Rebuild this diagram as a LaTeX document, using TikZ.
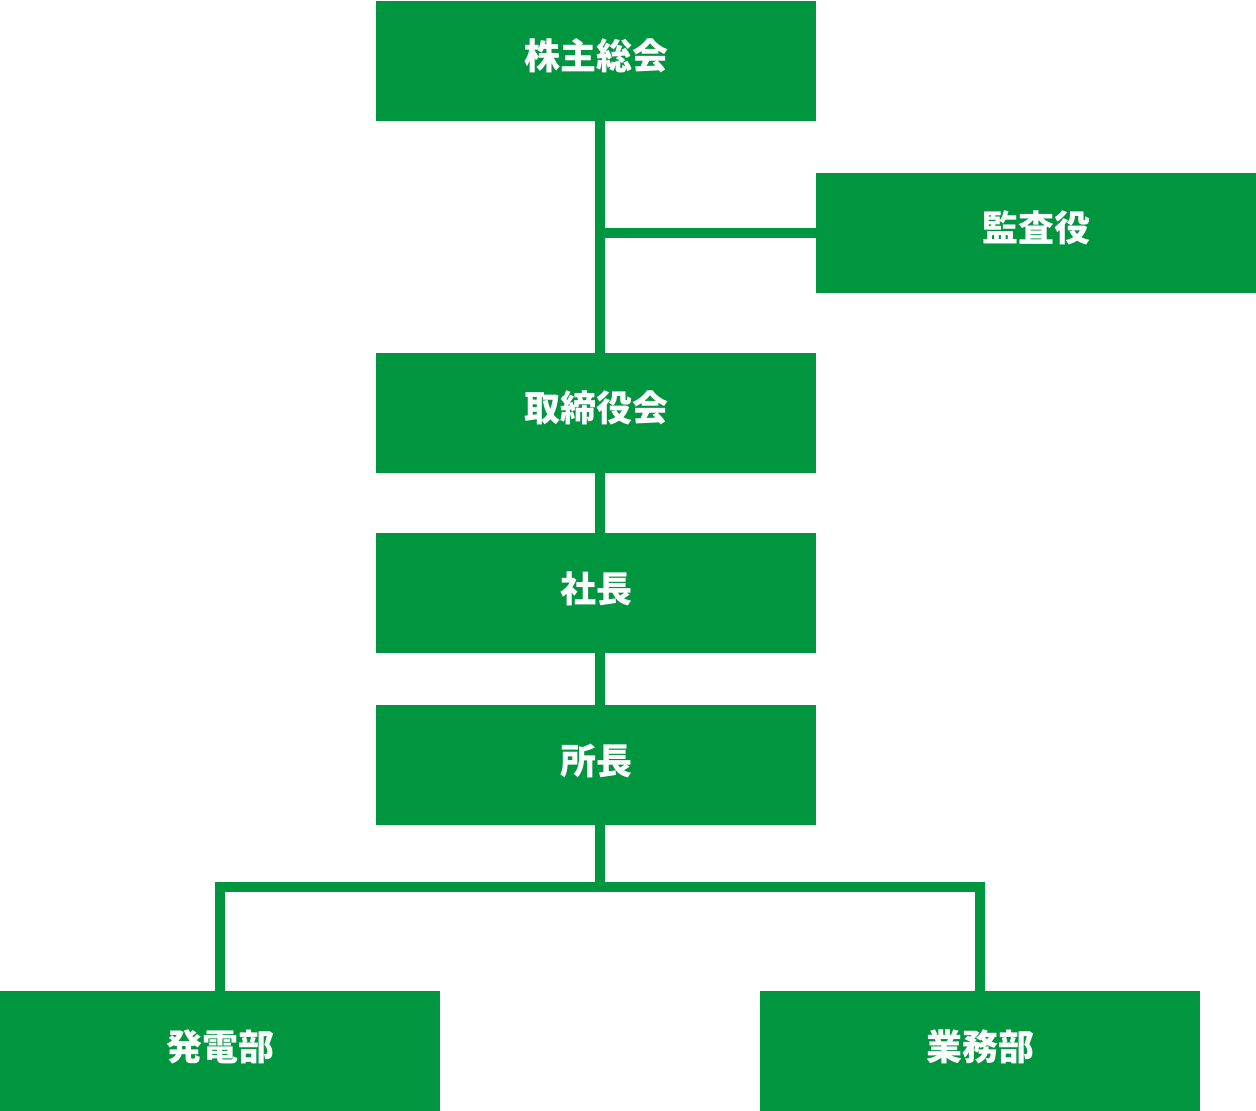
\documentclass[tikz,border=0pt]{standalone}
\usepackage{fontspec}
\setmainfont{Noto Sans CJK JP}
\usetikzlibrary{positioning}
\definecolor{orggreen}{RGB}{0,150,64}

\tikzset{
  orgbox/.style={fill=orggreen, text=white, font=\bfseries\fontsize{18pt}{20pt}\selectfont,
    minimum width=220pt, minimum height=60pt, inner sep=0pt, text height=11pt, text depth=2pt},
  orgline/.style={draw=orggreen, line width=5pt, line join=miter}
}

\begin{document}
\begin{tikzpicture}[x=0.5pt, y=-0.5pt]
\useasboundingbox (0,0) rectangle (1256,1111);
\node[orgbox] (kabu) at (596,61) {株主総会};
\node[orgbox] (kansa) at (1036,233) {監査役};
\node[orgbox] (tori) at (596,413) {取締役会};
\node[orgbox] (shacho) at (596,593) {社長};
\node[orgbox] (shocho) at (596,765) {所長};
\node[orgbox] (hatsu) at (220,1051) {発電部};
\node[orgbox] (gyomu) at (980,1051) {業務部};
\coordinate (br) at (600,887);

\draw[orgline] ([xshift=2pt]kabu.south) -- ([xshift=2pt]tori.north);
\draw[orgline] (kansa.west) -- (kansa.west -| br);
\draw[orgline] ([xshift=2pt]tori.south) -- ([xshift=2pt]shacho.north);
\draw[orgline] ([xshift=2pt]shacho.south) -- ([xshift=2pt]shocho.north);
\draw[orgline] ([xshift=2pt]shocho.south) -- (br);
\draw[orgline] (hatsu.north) |- (br) -| (gyomu.north);
\end{tikzpicture}
\end{document}
